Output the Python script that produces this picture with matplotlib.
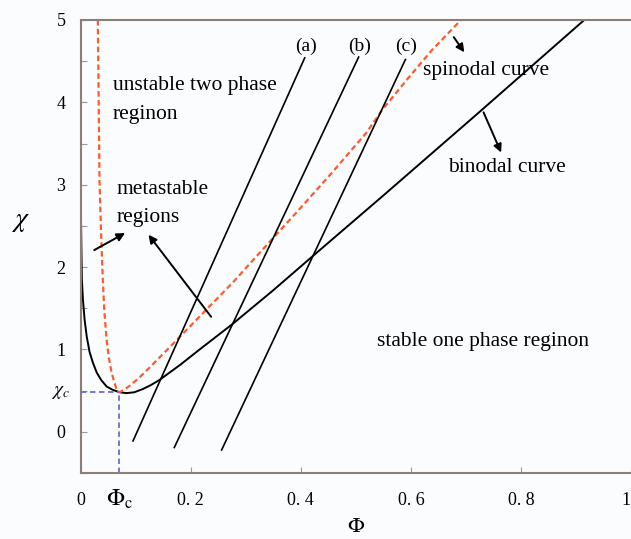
import numpy as np
import matplotlib
matplotlib.use("Agg")
from matplotlib import pyplot as plt
from matplotlib.ticker import MultipleLocator

plt.rcParams['font.family'] = ['Liberation Serif', 'DejaVu Serif']
plt.rcParams['mathtext.fontset'] = 'stix'

# binodal curve (black solid)
binodal_phi = [0.0, 0.001, 0.002, 0.004, 0.007, 0.011, 0.016, 0.022, 0.029, 0.037, 0.047, 0.058,
               0.071, 0.083, 0.097, 0.113, 0.128, 0.143, 0.18, 0.216, 0.276, 0.35, 0.421, 0.55, 0.724, 0.915]
binodal_chi = [2.8, 2.3, 1.85, 1.6, 1.36, 1.15, 0.97, 0.84, 0.72, 0.63, 0.55, 0.51,
               0.48, 0.47, 0.48, 0.52, 0.57, 0.63, 0.81, 1.0, 1.31, 1.72, 2.13, 2.87, 3.88, 5.0]

# spinodal curve (red dashed)
spinodal_phi = [0.031, 0.034, 0.037, 0.04, 0.043, 0.047, 0.051, 0.056, 0.061, 0.065, 0.07,
                0.079, 0.089, 0.105, 0.125, 0.162, 0.216, 0.276, 0.33, 0.397, 0.457, 0.519,
                0.548, 0.597, 0.639, 0.691]
spinodal_chi = [5.0, 3.06, 2.4, 1.85, 1.45, 1.12, 0.9, 0.72, 0.6, 0.52, 0.48,
                0.51, 0.56, 0.65, 0.78, 1.03, 1.40, 1.81, 2.21, 2.70, 3.15, 3.63,
                3.91, 4.31, 4.64, 5.0]

# straight lines (a), (b), (c): start and end points
line_names = ['(a)', '(b)', '(c)']
line_phi = [[0.095, 0.407], [0.17, 0.505], [0.256, 0.59]]
line_chi = [[-0.11, 4.54], [-0.19, 4.55], [-0.22, 4.52]]

# critical point
phi_c = 0.07
chi_c = 0.48

fig = plt.figure(figsize=(6.31, 5.39), dpi=100, facecolor='#fbfcfe')
ax = fig.add_axes([0.128, 0.1224, 0.872, 0.8405])
ax.set_facecolor('#fbfcfe')

ax.plot(binodal_phi, binodal_chi, color='black', lw=1.4)
ax.plot(spinodal_phi, spinodal_chi, color='#ff5a2a', lw=1.6, dashes=(2.5, 1.5))
for i in range(len(line_names)):
    ax.plot(line_phi[i], line_chi[i], color='black', lw=1.2)
    ax.text(line_phi[i][1] + 0.002, 4.68, line_names[i], fontsize=14, ha='center', va='center')

# critical point guides
ax.plot([phi_c, phi_c], [-0.5, chi_c], color='#6a6ad8', lw=1.3, dashes=(3, 2))
ax.plot([0, phi_c], [chi_c, chi_c], color='#6a6ad8', lw=1.3, dashes=(3, 2))

ax.set_xlim(0, 1)
ax.set_ylim(-0.5, 5)
ax.set_xticks([0, 0.2, 0.4, 0.6, 0.8, 1])
ax.set_xticklabels(['0', '0. 2', '0. 4', '0. 6', '0. 8', '1'])
ax.get_xticklabels()[-1].set_horizontalalignment('right')
ax.set_yticks([0, 1, 2, 3, 4, 5])
ax.yaxis.set_minor_locator(MultipleLocator(0.5))
ax.tick_params(direction='in', length=4, width=0.8, color='#999999', labelsize=13)
ax.tick_params(axis='x', pad=14)
ax.tick_params(axis='y', pad=11)
ax.tick_params(axis='y', which='minor', direction='in', length=4, width=0.8, color='#999999')
for s in ['left', 'bottom', 'top']:
    ax.spines[s].set_color('#8a7f78')
    ax.spines[s].set_linewidth(1.5)
ax.spines['right'].set_visible(False)

ax.text(phi_c, -0.68, r'$\Phi_{\rm c}$', fontsize=17, ha='center', va='top', clip_on=False)
ax.text(-0.02, chi_c, r'$\chi_c$', fontsize=14, ha='right', va='center', clip_on=False)
ax.set_xlabel(r'$\Phi$', fontsize=16)
ax.xaxis.set_label_coords(0.5, -0.1)
ax.set_ylabel(r'$\chi$', fontsize=20, rotation=0, va='center')
ax.yaxis.set_label_coords(-0.11, 0.555)

ax.text(0.058, 4.21, 'unstable two phase', fontsize=15.5, va='center')
ax.text(0.058, 3.85, 'reginon', fontsize=15.5, va='center')
ax.text(0.065, 2.94, 'metastable', fontsize=15.5, va='center')
ax.text(0.065, 2.60, 'regions', fontsize=15.5, va='center')
ax.text(0.539, 1.1, 'stable one phase reginon', fontsize=15.5, va='center')
ax.text(0.737, 4.39, 'spinodal curve', fontsize=15.5, ha='center', va='center')
ax.text(0.775, 3.21, 'binodal curve', fontsize=15.5, ha='center', va='center')

arrow = dict(arrowstyle='-|>', color='black', lw=1.4, mutation_scale=12)
ax.annotate('', xy=(0.70, 4.58), xytext=(0.675, 4.82), arrowprops=arrow)
ax.annotate('', xy=(0.766, 3.36), xytext=(0.73, 3.91), arrowprops=arrow)
ax.annotate('', xy=(0.085, 2.43), xytext=(0.02, 2.19), arrowprops=arrow)
ax.annotate('', xy=(0.12, 2.42), xytext=(0.24, 1.37), arrowprops=arrow)

fig.savefig('out.png', dpi=100, facecolor=fig.get_facecolor())
